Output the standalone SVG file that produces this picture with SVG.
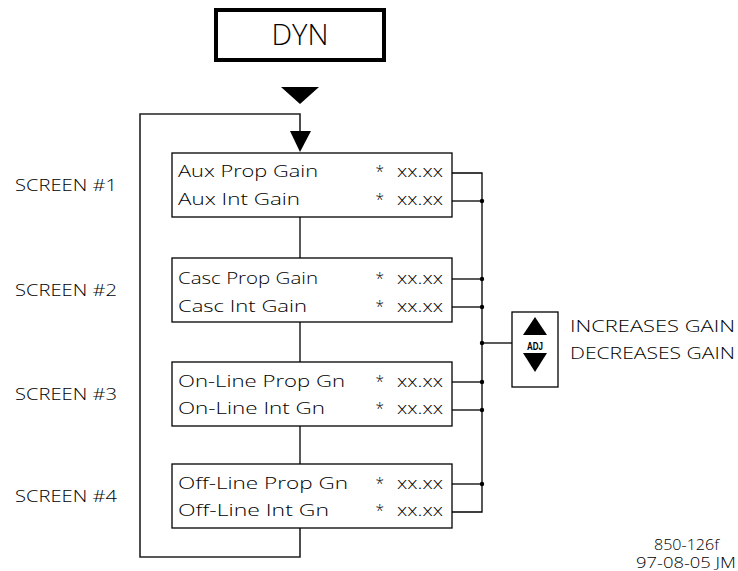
<svg xmlns="http://www.w3.org/2000/svg" width="738" height="571" viewBox="0 0 738 571">
<style>
text{font-family:"Open Sans","Liberation Sans",Arial,sans-serif;font-weight:300;fill:#000}
.box{fill:#fff;stroke:#000;stroke-width:1.3}
.row{font-size:15.5px}
.lbl{font-size:17px}
.wire{fill:none;stroke:#000;stroke-width:1.3}
.loop{fill:none;stroke:#222;stroke-width:1.6}
.dot{fill:#000}
</style>
<rect width="738" height="571" fill="#fff"/>

<g id="dyn">
<rect x="216" y="10" width="168" height="50" fill="#fff" stroke="#000" stroke-width="4"/>
<text x="271.5" y="45" font-size="30" textLength="57" lengthAdjust="spacingAndGlyphs">DYN</text>
<polygon points="281,87 319,87 300,104" fill="#000"/>
</g>

<g id="connectors">
<polyline class="loop" points="300,528 300,557 140,557 140,114 300,114 300,131"/>
<polygon points="290,131 311,131 300,152" fill="#000"/>
<line class="wire" x1="300" y1="217" x2="300" y2="258"/>
<line class="wire" x1="300" y1="322" x2="300" y2="362"/>
<line class="wire" x1="300" y1="426" x2="300" y2="464"/>
<polyline class="wire" points="452,173 482,173 482,512 452,512"/>
<line class="wire" x1="452" y1="201" x2="482" y2="201"/>
<line class="wire" x1="452" y1="279" x2="482" y2="279"/>
<line class="wire" x1="452" y1="307" x2="482" y2="307"/>
<line class="wire" x1="452" y1="382" x2="482" y2="382"/>
<line class="wire" x1="452" y1="410" x2="482" y2="410"/>
<line class="wire" x1="452" y1="484" x2="482" y2="484"/>
<line class="wire" x1="482" y1="343" x2="512" y2="343"/>
<circle class="dot" cx="482" cy="201" r="2.2"/>
<circle class="dot" cx="482" cy="279" r="2.2"/>
<circle class="dot" cx="482" cy="307" r="2.2"/>
<circle class="dot" cx="482" cy="343" r="2.2"/>
<circle class="dot" cx="482" cy="382" r="2.2"/>
<circle class="dot" cx="482" cy="410" r="2.2"/>
<circle class="dot" cx="482" cy="484" r="2.2"/>
</g>

<g id="screen1">
<text class="lbl" x="15" y="191" textLength="102" lengthAdjust="spacingAndGlyphs">SCREEN #1</text>
<rect class="box" x="172" y="153" width="280" height="64"/>
<text class="row" x="178" y="177" textLength="140" lengthAdjust="spacingAndGlyphs">Aux Prop Gain</text>
<text class="row" x="375.5" y="177">*</text>
<text class="row" x="397" y="177" textLength="46" lengthAdjust="spacingAndGlyphs">xx.xx</text>
<text class="row" x="178" y="205" textLength="122" lengthAdjust="spacingAndGlyphs">Aux Int Gain</text>
<text class="row" x="375.5" y="205">*</text>
<text class="row" x="397" y="205" textLength="46" lengthAdjust="spacingAndGlyphs">xx.xx</text>
</g>

<g id="screen2">
<text class="lbl" x="15" y="296" textLength="102" lengthAdjust="spacingAndGlyphs">SCREEN #2</text>
<rect class="box" x="172" y="258" width="280" height="64"/>
<text class="row" x="178" y="283.5" textLength="140" lengthAdjust="spacingAndGlyphs">Casc Prop Gain</text>
<text class="row" x="375.5" y="283.5">*</text>
<text class="row" x="397" y="283.5" textLength="46" lengthAdjust="spacingAndGlyphs">xx.xx</text>
<text class="row" x="178" y="311.5" textLength="129" lengthAdjust="spacingAndGlyphs">Casc Int Gain</text>
<text class="row" x="375.5" y="311.5">*</text>
<text class="row" x="397" y="311.5" textLength="46" lengthAdjust="spacingAndGlyphs">xx.xx</text>
</g>

<g id="screen3">
<text class="lbl" x="15" y="400" textLength="102" lengthAdjust="spacingAndGlyphs">SCREEN #3</text>
<rect class="box" x="172" y="362" width="280" height="64"/>
<text class="row" x="178" y="386.5" textLength="167" lengthAdjust="spacingAndGlyphs">On-Line Prop Gn</text>
<text class="row" x="375.5" y="386.5">*</text>
<text class="row" x="397" y="386.5" textLength="46" lengthAdjust="spacingAndGlyphs">xx.xx</text>
<text class="row" x="178" y="414" textLength="147" lengthAdjust="spacingAndGlyphs">On-Line Int Gn</text>
<text class="row" x="375.5" y="414">*</text>
<text class="row" x="397" y="414" textLength="46" lengthAdjust="spacingAndGlyphs">xx.xx</text>
</g>

<g id="screen4">
<text class="lbl" x="15" y="502" textLength="102" lengthAdjust="spacingAndGlyphs">SCREEN #4</text>
<rect class="box" x="172" y="464" width="280" height="64"/>
<text class="row" x="178" y="488.5" textLength="170" lengthAdjust="spacingAndGlyphs">Off-Line Prop Gn</text>
<text class="row" x="375.5" y="488.5">*</text>
<text class="row" x="397" y="488.5" textLength="46" lengthAdjust="spacingAndGlyphs">xx.xx</text>
<text class="row" x="178" y="516" textLength="151" lengthAdjust="spacingAndGlyphs">Off-Line Int Gn</text>
<text class="row" x="375.5" y="516">*</text>
<text class="row" x="397" y="516" textLength="46" lengthAdjust="spacingAndGlyphs">xx.xx</text>
</g>

<g id="adj">
<rect class="box" x="512" y="312" width="46" height="75"/>
<polygon points="523,335 547,335 535,317" fill="#000"/>
<polygon points="523,353 547,353 535,372" fill="#000"/>
<text x="527" y="349.5" font-size="10.5" style="font-family:'Liberation Sans',Arial,sans-serif;font-weight:bold" textLength="16" lengthAdjust="spacingAndGlyphs">ADJ</text>
<text class="lbl" x="570" y="332" textLength="165" lengthAdjust="spacingAndGlyphs">INCREASES GAIN</text>
<text class="lbl" x="570" y="358.5" textLength="165" lengthAdjust="spacingAndGlyphs">DECREASES GAIN</text>
</g>

<g id="ref">
<text x="654" y="549.5" font-size="14.5" textLength="65" lengthAdjust="spacingAndGlyphs">850-126f</text>
<text x="636" y="568" font-size="14.5" textLength="100" lengthAdjust="spacingAndGlyphs">97-08-05 JM</text>
</g>
</svg>
